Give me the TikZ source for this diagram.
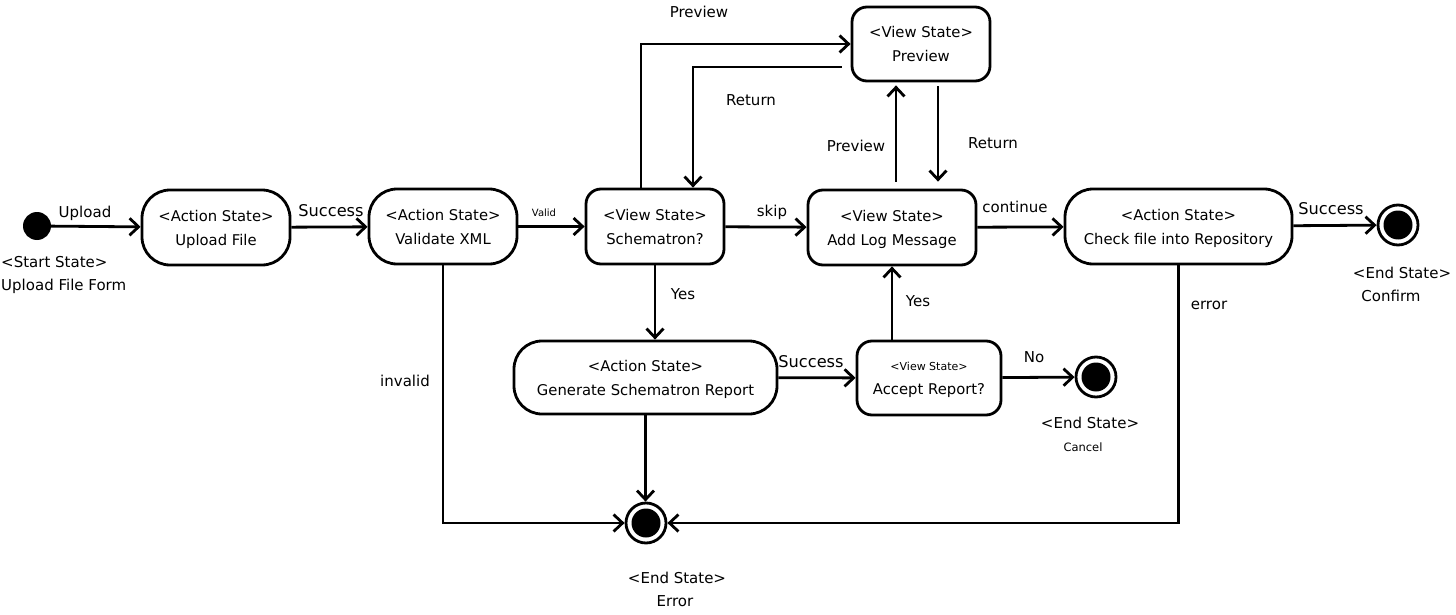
\documentclass[tikz,border=0pt]{standalone}
\usepackage{fontspec}
\setmainfont{DejaVu Sans}
\usetikzlibrary{arrows.meta}
\newcommand\topst[1][15pt]{\rule{0pt}{#1}}
\newcommand\botst{\rule[-4pt]{0pt}{4pt}}
\begin{document}
\begin{tikzpicture}[x=1pt,y=-1pt,
  every node/.style={font=\fontsize{15}{24}\selectfont, inner sep=0pt, text=black},
  boxtxt/.style={font=\fontsize{14.8}{24}\selectfont, align=center},
  act/.style={draw, line width=2.8pt, rounded corners=28pt, minimum height=75pt, boxtxt},
  view/.style={draw, line width=2.8pt, rounded corners=15pt, minimum height=75pt, boxtxt},
  arr/.style={line width=2.8pt, -{Straight Barb[length=9pt,width=17pt,line width=2.8pt]}},
  lbl/.style={text height=10.5pt, text depth=0pt},
  endst/.style={circle, draw, line width=2.8pt, minimum size=40pt,
    path picture={\fill[black] (path picture bounding box.center) circle (14.5pt);}},
  startst/.style={circle, fill=black, minimum size=28pt}
]
\useasboundingbox[fill=white] (0,0) rectangle (1456,615);

% states
\node[startst] (start) at (37,226) {};
\node[act, minimum width=148pt] (upload) at (216,227.5) {\topst<Action State>\\Upload File\botst};
\node[act, minimum width=148pt] (validate) at (443,226.5) {\topst<Action State>\\Validate XML\botst};
\node[view, minimum width=138pt] (schem) at (655,226.5) {\topst<View State>\\Schematron?\botst};
\node[view, minimum width=168pt] (addlog) at (892,227.5) {\topst<View State>\\Add Log Message\botst};
\node[act, minimum width=227pt] (check) at (1178.5,226.5) {\topst<Action State>\\Check file into Repository\botst};
\node[endst] (confirm) at (1398,225) {};
\node[view, minimum width=138pt, minimum height=74pt] (preview) at (921,44) {\topst[16pt]<View State>\\Preview\botst};
\node[act, minimum width=263pt, minimum height=73pt] (gen) at (645.5,377.5) {\topst[16pt]<Action State>\\Generate Schematron Report\botst};
\node[view, minimum width=144pt, minimum height=74pt] (accept) at (929,378)
  {{\fontsize{11}{22}\selectfont\topst[13.6pt]<View State>}\\Accept Report?\botst};
\node[endst] (cancel) at (1096,377) {};
\node[endst] (err) at (646,523) {};

% state captions
\node[anchor=west, align=left, font=\fontsize{15}{23}\selectfont] (startcap) at (1,275) {<Start State>\\Upload File Form};
\node[lbl] (confcap1) at (1402,273) {<End State>};
\node[lbl] (confcap2) at (1391,296) {Confirm};
\node[lbl] (cancap1) at (1090,423) {<End State>};
\node[lbl, font=\fontsize{11.5}{12}\selectfont, text height=8.3pt] (cancap2) at (1083,447) {Cancel};
\node[lbl] (errcap1) at (677,578) {<End State>};
\node[lbl] (errcap2) at (675,601) {Error};

% connectors
\draw[arr] (start) -- (upload);
\draw[arr] (upload) -- (validate);
\draw[arr] (validate) -- (schem);
\draw[arr] (schem) -- (addlog);
\draw[arr] (addlog) -- (check);
\draw[arr] (check) -- (confirm);

\coordinate (a1) at ([xshift=-14pt]schem.north);
\draw[arr] (a1) |- (preview.west);
\coordinate (a2) at ([xshift=-9pt,yshift=-23pt]preview.west);
\coordinate (a3) at ([xshift=38pt]schem.north);
\draw[arr] (a2) -| (a3);

\coordinate (a4) at ([xshift=4pt]addlog.north);
\draw[arr, shorten <=7pt, shorten >=3pt] (a4) -- (a4 |- preview.south);
\coordinate (a5) at ([xshift=17pt]preview.south);
\draw[arr, shorten <=4pt, shorten >=7pt] (a5) -- (a5 |- addlog.north);

\draw[arr] (schem.south) -- (schem.south |- gen.north);
\draw[arr] (gen) -- (accept);
\draw[arr] (addlog.south |- accept.north) -- (addlog.south);
\draw[arr] (accept) -- (cancel);

\draw[arr] (validate.south) |- (err.west);
\draw[arr] (gen.south) -- (gen.south |- err.north);
\draw[arr] (check.south) |- (err.east);

% connector labels
\node[lbl] (l1) at (85,212) {Upload};
\node[lbl, font=\fontsize{16.2}{18}\selectfont, text height=11.8pt] (l2) at (331,211) {Success};
\node[lbl, font=\fontsize{10}{12}\selectfont, text height=7.3pt] (l3) at (544,213) {Valid};
\node[lbl] (l4) at (772,211) {skip};
\node[lbl] (l5) at (1015,207) {continue};
\node[lbl, font=\fontsize{16.2}{18}\selectfont, text height=11.8pt] (l6) at (1331,209) {Success};
\node[lbl] (l7) at (699,12) {Preview};
\node[lbl] (l8) at (751,100) {Return};
\node[lbl] (l9) at (856,146) {Preview};
\node[lbl] (l10) at (993,143) {Return};
\node[lbl] (l11) at (683,294) {Yes};
\node[lbl, font=\fontsize{16.2}{18}\selectfont, text height=11.8pt] (l12) at (811,362) {Success};
\node[lbl] (l13) at (918,301) {Yes};
\node[lbl] (l14) at (1034,357) {No};
\node[lbl] (l15) at (405,381) {invalid};
\node[lbl] (l16) at (1209,304) {error};
\end{tikzpicture}
\end{document}
